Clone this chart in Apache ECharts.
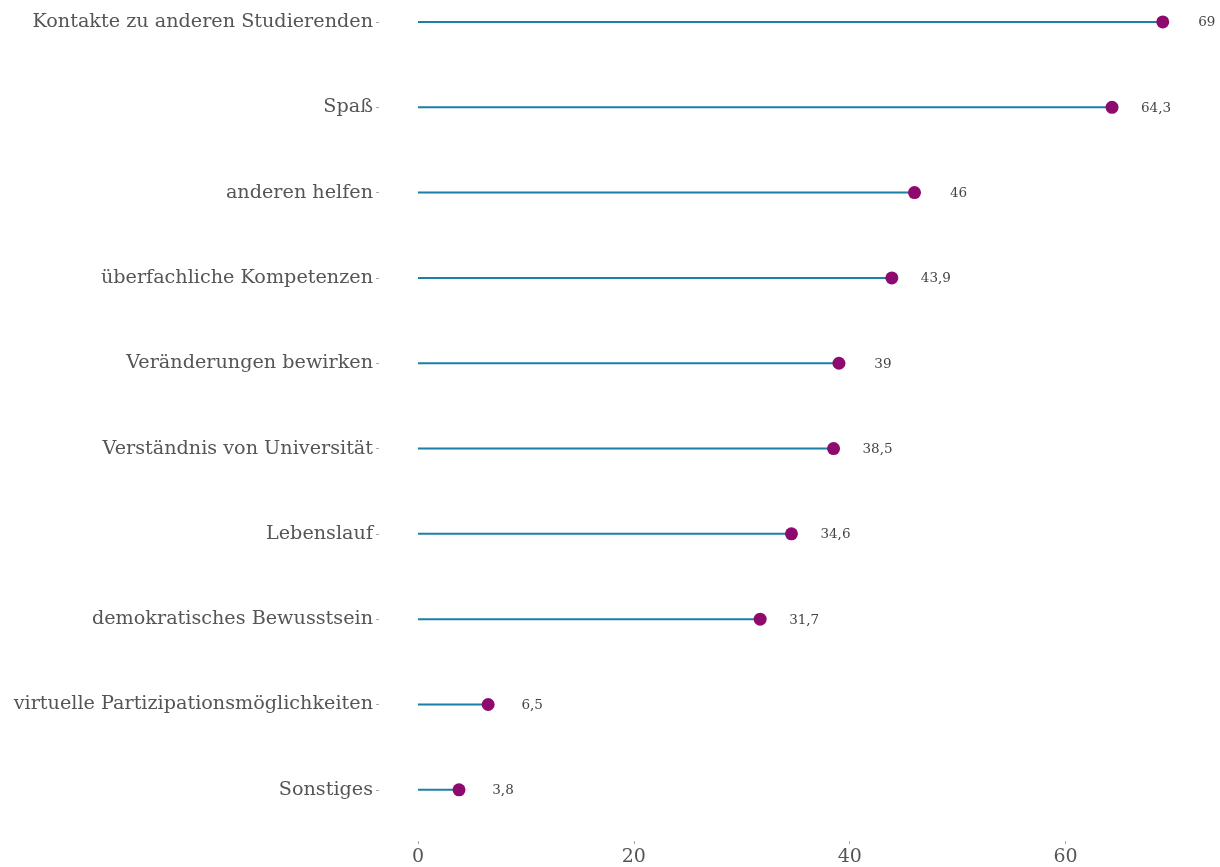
<!DOCTYPE html>
<html><head><meta charset="utf-8">
<script src="https://cdn.jsdelivr.net/npm/echarts@6/dist/echarts.min.js"></script>
<style>html,body{margin:0;padding:0;background:#fff}#c{width:1220px;height:867px}</style>
</head><body><div id="c"></div>
<script>
const categories = ["Kontakte zu anderen Studierenden","Spaß","anderen helfen","überfachliche Kompetenzen","Veränderungen bewirken","Verständnis von Universität","Lebenslauf","demokratisches Bewusstsein","virtuelle Partizipationsmöglichkeiten","Sonstiges"];
const values = [69, 64.3, 46, 43.9, 39, 38.5, 34.6, 31.7, 6.5, 3.8];
const xTicks = [0, 20, 40, 60];

const font = "DejaVu Serif";
const idx = categories.map((c, i) => i);
const points = values.map((v, i) => [v, i]);
const fmt = v => String(v).replace('.', ',');
const chart = echarts.init(document.getElementById('c'), null, {renderer: 'canvas'});
chart.setOption({
  animation: false,
  backgroundColor: '#fff',
  grid: {left: 418, right: 20, top: 0, bottom: 25, containLabel: false},
  xAxis: {
    type: 'value', min: 0, max: 72.45, position: 'bottom',
    axisLine: {show: false, onZero: false},
    axisTick: {show: true, length: 3, customValues: xTicks, lineStyle: {color: '#aaa'}},
    splitLine: {show: false},
    axisLabel: {margin: 7, color: '#555', fontFamily: font, fontSize: 19, customValues: xTicks}
  },
  yAxis: {
    type: 'value', inverse: true, min: -0.2575, max: 9.6, offset: 39, position: 'left',
    axisLine: {show: false, onZero: false},
    axisTick: {show: true, length: 3, customValues: idx, lineStyle: {color: '#aaa'}},
    splitLine: {show: false},
    axisLabel: {margin: 6, color: '#555', fontFamily: font, fontSize: 19.2, customValues: idx,
      formatter: v => categories[Math.round(v)]}
  },
  series: [
    {type: 'custom', data: points, silent: true,
      renderItem: (params, api) => {
        const a = api.coord([0, api.value(1)]);
        const b = api.coord([api.value(0), api.value(1)]);
        return {type: 'line', shape: {x1: a[0], y1: a[1], x2: b[0], y2: b[1]},
          style: {stroke: '#1b7fa6', lineWidth: 2}};
      }},
    {type: 'scatter', data: points, symbolSize: 13, itemStyle: {color: '#8e0a6e', opacity: 1},
      label: {show: true, position: 'inside', offset: [44, 1], color: '#444', fontFamily: font, fontSize: 13.5,
        formatter: p => fmt(p.value[0])}}
  ]
});
</script></body></html>
